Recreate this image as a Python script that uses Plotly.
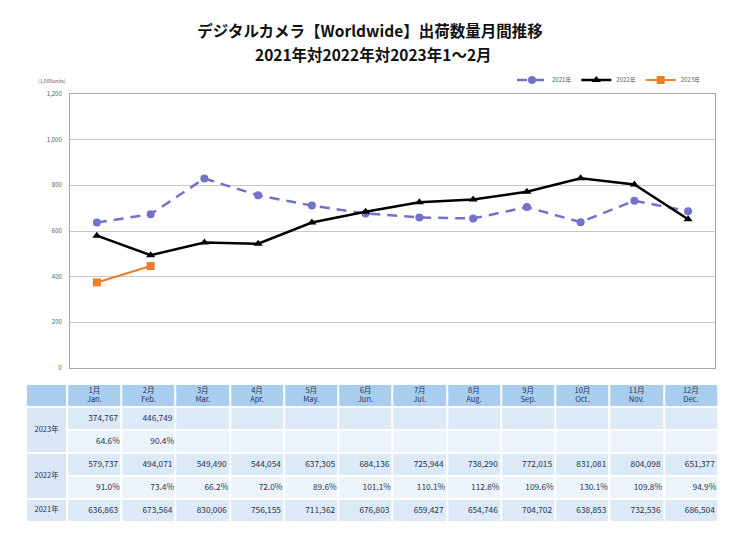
import plotly.graph_objects as go

# ---------------- data ----------------
months_jp = ["1月", "2月", "3月", "4月", "5月", "6月", "7月", "8月", "9月", "10月", "11月", "12月"]
months_en = ["Jan.", "Feb.", "Mar.", "Apr.", "May.", "Jun.", "Jul.", "Aug.", "Sep.", "Oct.", "Nov.", "Dec."]
units_2021 = [636863, 673564, 830006, 756155, 711362, 676803, 659427, 654746, 704702, 638853, 732536, 686504]
units_2022 = [579737, 494071, 549490, 544054, 637305, 684136, 725944, 738290, 772015, 831081, 804098, 651377]
units_2023 = [374767, 446749]
yoy_2022 = [91.0, 73.4, 66.2, 72.0, 89.6, 101.1, 110.1, 112.8, 109.6, 130.1, 109.8, 94.9]
yoy_2023 = [64.6, 90.4]
year_labels = ["2023年", "2022年", "2021年"]
series_names = ["2021年", "2022年", "2023年"]
y_ticks = [0, 200, 400, 600, 800, 1000, 1200]
title_lines = ["デジタルカメラ【Worldwide】出荷数量月間推移", "2021年対2022年対2023年1～2月"]

W, H = 750, 548
O = 8  # page body margin offset
def px(x):
    return (x - O) / W
def py(y):
    return 1 - (y - O) / H

FONT = "Noto Sans CJK JP"
C2021, C2022, C2023 = "#7272C8", "#000000", "#F07D28"
C_HEAD, C_VAL, C_PCT, C_LAB = "#A9CDEE", "#DCE9F6", "#ECF3FB", "#DAE6F3"
TXT = "#2B3550"

fig = go.Figure()

# ---------------- line chart ----------------
fig.add_trace(go.Scatter(x=months_jp, y=[v / 1000 for v in units_2021], name=series_names[0],
                         mode="lines+markers",
                         line=dict(color=C2021, width=2.5, dash="10px,7px"),
                         marker=dict(symbol="circle", size=8, color=C2021),
                         xaxis="x", yaxis="y", hoverinfo="skip"))
fig.add_trace(go.Scatter(x=months_jp, y=[v / 1000 for v in units_2022], name=series_names[1],
                         mode="lines+markers",
                         line=dict(color=C2022, width=2.5),
                         marker=dict(symbol="triangle-up", size=8, color=C2022),
                         xaxis="x", yaxis="y", hoverinfo="skip"))
fig.add_trace(go.Scatter(x=months_jp[:len(units_2023)], y=[v / 1000 for v in units_2023], name=series_names[2],
                         mode="lines+markers",
                         line=dict(color=C2023, width=2),
                         marker=dict(symbol="square", size=8, color=C2023),
                         xaxis="x", yaxis="y", hoverinfo="skip"))

# ---------------- table (heatmap cells on its own axes) ----------------
w0 = 0.76  # label column width relative to a month column
col_edges = [w0 + i for i in range(13)]
col_centers = [w0 + i + 0.5 for i in range(12)]
col_rights = [w0 + i + 1 for i in range(12)]

# rows from bottom: 2021, 2022 pct, 2022 val, 2023 pct, 2023 val, header
codes_rows = [1, 2, 1, 2, 1, 0]
z_month = [[codes_rows[r]] * 12 for r in range(6)]
cscale = [[0, C_HEAD], [0.25, C_HEAD], [0.25, C_VAL], [0.5, C_VAL],
          [0.5, C_PCT], [0.75, C_PCT], [0.75, C_LAB], [1, C_LAB]]
fig.add_trace(go.Heatmap(x=col_edges, y=list(range(7)), z=z_month, zmin=0, zmax=4,
                         colorscale=cscale, showscale=False, xgap=2, ygap=2,
                         xaxis="x2", yaxis="y2", hoverinfo="skip"))
fig.add_trace(go.Heatmap(x=[0, w0], y=[0, 1, 3, 5, 6], z=[[3], [3], [3], [0]], zmin=0, zmax=4,
                         colorscale=cscale, showscale=False, xgap=2, ygap=2,
                         xaxis="x2", yaxis="y2", hoverinfo="skip"))

tfont = dict(family=FONT, size=8.3, color=TXT)
hfont = dict(family=FONT, size=7.5, color=TXT)
# header
fig.add_trace(go.Scatter(x=col_centers, y=[5.5] * 12,
                         text=[f"{a}<br>{b}" for a, b in zip(months_jp, months_en)],
                         mode="text", textposition="middle center", textfont=hfont,
                         xaxis="x2", yaxis="y2", hoverinfo="skip", showlegend=False))
# year labels
fig.add_trace(go.Scatter(x=[w0 / 2] * 3, y=[4, 2, 0.5], text=year_labels,
                         mode="text", textposition="middle center", textfont=hfont,
                         xaxis="x2", yaxis="y2", hoverinfo="skip", showlegend=False))

def add_vals(vals, yrow, shift):
    fig.add_trace(go.Scatter(x=[r - shift for r in col_rights[:len(vals)]], y=[yrow] * len(vals),
                             text=[f"{v:,}" for v in vals],
                             mode="text", textposition="middle left", textfont=tfont,
                             xaxis="x2", yaxis="y2", hoverinfo="skip", showlegend=False))

def add_pcts(vals, yrow):
    fig.add_trace(go.Scatter(x=[r - 0.03 for r in col_rights[:len(vals)]], y=[yrow] * len(vals),
                             text=[f"{v:.1f}%" for v in vals],
                             mode="text", textposition="middle left", textfont=tfont,
                             xaxis="x2", yaxis="y2", hoverinfo="skip", showlegend=False))

add_vals(units_2023, 4.5, 0.06)
add_pcts(yoy_2023, 3.5)
add_vals(units_2022, 2.5, 0.06)
add_pcts(yoy_2022, 1.5)
add_vals(units_2021, 0.5, 0.06)

# ---------------- layout ----------------
title_font = dict(family=FONT, size=15.5, color="#111111")
fig.update_layout(
    width=W, height=H,
    margin=dict(l=0, r=0, t=0, b=0, autoexpand=False),
    paper_bgcolor="white", plot_bgcolor="white",
    font=dict(family=FONT, color="#333333"),
    title=dict(text=f"<b>{title_lines[0]}</b>", x=px(370), xanchor="center", y=py(32), yanchor="middle",
               font=title_font),
    xaxis=dict(domain=[px(70), px(715)], type="category", range=[-0.5, 11.5],
               showticklabels=False, showgrid=False, showline=True, mirror=True,
               linecolor="#A6A6A6", linewidth=1, ticks="", fixedrange=True),
    yaxis=dict(domain=[py(368), py(94)], range=[0, 1200], tickvals=y_ticks,
               tickformat=",", gridcolor="#C8C8C8", showline=True, mirror=True,
               linecolor="#A6A6A6", linewidth=1, ticks="", ticklabelstandoff=6,
               tickfont=dict(size=6, color="#595959"), zeroline=False, fixedrange=True),
    xaxis2=dict(domain=[px(26), px(718)], range=[0, 12 + w0], visible=False, fixedrange=True),
    yaxis2=dict(domain=[py(522), py(384)], range=[0, 6], visible=False, fixedrange=True),
    legend=dict(orientation="h", x=px(512), xanchor="left", y=py(80), yanchor="middle",
                font=dict(size=6, color="#595959"), itemwidth=30,
                bgcolor="rgba(0,0,0,0)"),
    annotations=[
        dict(text=f"<b>{title_lines[1]}</b>", x=px(373), y=py(53.5), xref="paper", yref="paper",
             xanchor="center", yanchor="middle", showarrow=False, font=title_font),
        dict(text="(1,000units)", x=px(36), y=py(80), xref="paper", yref="paper",
             xanchor="left", yanchor="middle", showarrow=False,
             font=dict(size=5, color="#595959")),
    ],
)

fig.write_html("out.html")
